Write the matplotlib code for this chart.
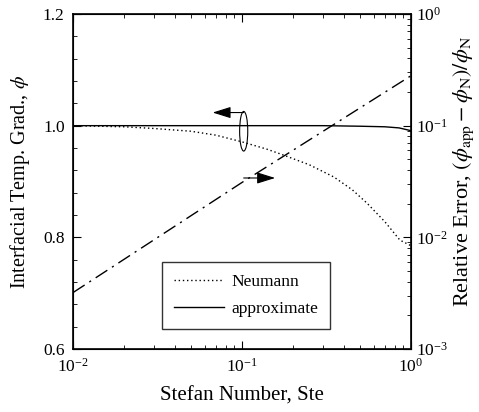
import matplotlib
matplotlib.use("Agg")
import matplotlib.pyplot as plt
from matplotlib.patches import Ellipse
from matplotlib.ticker import MultipleLocator, LogLocator, NullFormatter

plt.rcParams['font.family'] = ['Liberation Serif', 'DejaVu Serif']
plt.rcParams['mathtext.fontset'] = 'stix'
plt.rcParams['xtick.direction'] = 'in'
plt.rcParams['ytick.direction'] = 'in'

# Neumann (exact) solution
ste_neu = [0.01, 0.02, 0.03, 0.05, 0.07, 0.1, 0.14, 0.17, 0.25, 0.35, 0.45, 0.55, 0.7, 0.86, 1.0]
phi_neu = [1.0, 0.998, 0.995, 0.99, 0.983, 0.971, 0.958, 0.949, 0.930, 0.908, 0.885, 0.861, 0.828, 0.795, 0.785]

# approximate solution
ste_app = [0.01, 0.1, 0.3, 0.5, 0.7, 0.85, 1.0]
phi_app = [1.0, 1.0, 1.0, 0.999, 0.998, 0.996, 0.991]

# relative error (right axis)
ste_err = [0.01, 0.1, 1.0]
rel_err = [3.2e-3, 3.1e-2, 0.28]

fig = plt.figure(figsize=(4.79, 4.12), dpi=100)
ax = fig.add_axes([73/479, 1 - 349/412, 338/479, 335/412])

ax.plot(ste_neu, phi_neu, color='black', linestyle=(0, (1, 2)), linewidth=1.0, label='Neumann')
ax.plot(ste_app, phi_app, color='black', linestyle='-', linewidth=1.0, label='approximate')
ax.set_xscale('log')
ax.set_xlim(0.01, 1)
ax.set_ylim(0.6, 1.2)
ax.yaxis.set_major_locator(MultipleLocator(0.2))
ax.yaxis.set_minor_locator(MultipleLocator(0.04))
ax.tick_params(which='both', top=True, labelsize=12.5, pad=6)
ax.tick_params(which='major', length=6)
ax.tick_params(which='minor', length=3)
ax.set_xlabel('Stefan Number, Ste', fontsize=15, labelpad=8)
ax.set_ylabel(r'Interfacial Temp. Grad., $\phi$', fontsize=14.5, labelpad=8)

ax2 = ax.twinx()
ax2.plot(ste_err, rel_err, color='black', linestyle=(0, (10, 4, 1.5, 4)), linewidth=1.0)
ax2.set_yscale('log')
ax2.set_ylim(1e-3, 1)
ax2.yaxis.set_major_locator(LogLocator(base=10))
ax2.yaxis.set_minor_locator(LogLocator(base=10, subs=range(2, 10)))
ax2.yaxis.set_minor_formatter(NullFormatter())
ax2.tick_params(which='both', labelsize=12.5)
ax2.tick_params(which='major', length=6)
ax2.tick_params(which='minor', length=3)
ax2.set_ylabel(r'Relative Error, $(\phi_{\mathrm{app}}-\phi_{\mathrm{N}})/\phi_{\mathrm{N}}$',
               fontsize=16)
ax2.yaxis.set_label_coords(1.12, 0.53)

for s in ax.spines.values():
    s.set_linewidth(1.2)

# ellipse marking the phi curves and its arrow to the left axis
ax.add_patch(Ellipse((0.505, 0.99), width=0.024, height=0.071, transform=ax.get_yaxis_transform(),
                     fill=False, edgecolor='black', linewidth=0.8, zorder=5))
ax.annotate('', xy=(0.413, 1.0235), xytext=(0.505, 1.0235), xycoords=('axes fraction', 'data'),
            arrowprops=dict(arrowstyle='-|>,head_length=0.8,head_width=0.25', color='black',
                            lw=0.8, mutation_scale=14, shrinkA=0, shrinkB=0))
# arrow from the error line to the right axis
ax2.annotate('', xy=(0.598, 0.034), xytext=(0.505, 0.034), xycoords=('axes fraction', 'data'),
             arrowprops=dict(arrowstyle='-|>,head_length=0.8,head_width=0.25', color='black',
                             lw=0.8, mutation_scale=14, shrinkA=0, shrinkB=0))

leg = ax.legend(loc='lower left', bbox_to_anchor=(0.263, 0.06), fontsize=12.5, frameon=True,
                fancybox=False, edgecolor='black', handlelength=2.9, handletextpad=0.4,
                borderpad=0.7, labelspacing=0.6, borderaxespad=0)
leg.get_frame().set_linewidth(1.0)

fig.savefig('out.png', dpi=100)
